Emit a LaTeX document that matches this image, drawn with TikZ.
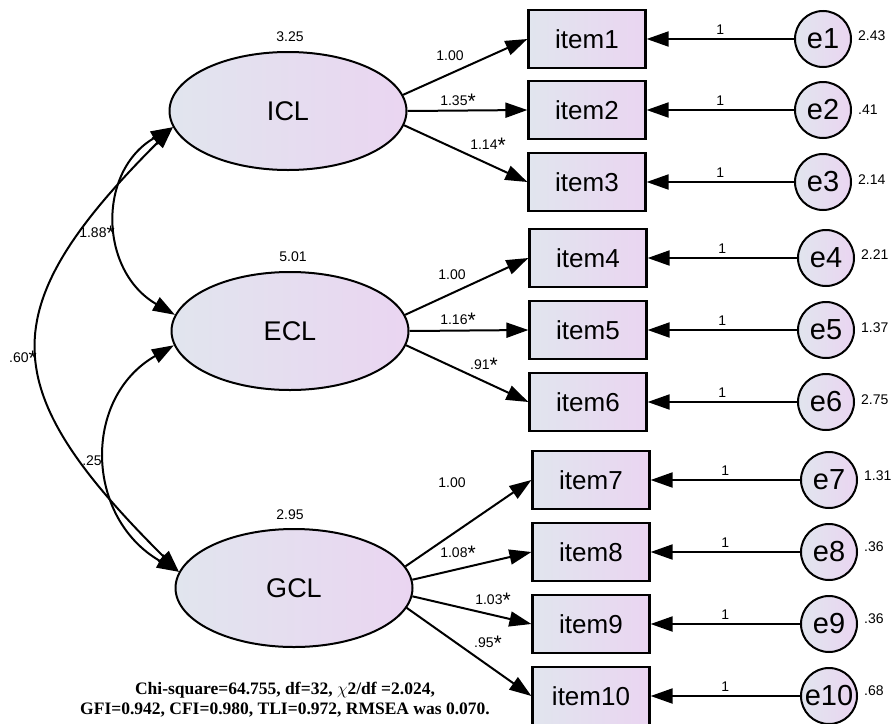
\documentclass[tikz,border=0pt]{standalone}
\usepackage{fontspec}
\setmainfont{Liberation Sans}
\newfontfamily\timesfont{Liberation Serif}
\usetikzlibrary{arrows.meta,shapes.geometric}
\definecolor{gl}{HTML}{E1E5EE}
\definecolor{gr}{HTML}{EAD5F1}
\newcommand\myast{\raisebox{-3pt}{\fontsize{21}{21}\selectfont *}}
\begin{document}
\begin{tikzpicture}[x=1pt,y=1pt,
  latent/.style={ellipse, draw, line width=2pt, minimum width=237pt, minimum height=118pt, inner sep=0pt, left color=gl, right color=gr, font=\fontsize{27}{30}\selectfont},
  itembox/.style={rectangle, draw, line width=2.2pt, minimum width=117pt, minimum height=58pt, inner sep=0pt, left color=gl, right color=gr, font=\fontsize{26}{28}\selectfont},
  errc/.style={circle, draw, line width=2pt, minimum size=56pt, inner sep=0pt, left color=gl, right color=gr, font=\fontsize{29}{30}\selectfont},
  num/.style={font=\fontsize{14}{16}\selectfont, inner sep=1pt},
  conn/.style={line width=2pt, -{Triangle[length=22pt,width=15pt]}},
  cov/.style={line width=2pt, {Triangle[length=22pt,width=15pt]}-{Triangle[length=22pt,width=15pt]}},
]
\useasboundingbox (0,0) rectangle (894,-723);

% latent variables
\node[latent] (ICL) at (288,-111) {ICL};
\node[latent] (ECL) at (290,-331) {ECL};
\node[latent] (GCL) at (294,-588) {GCL};
\node[num] (vICL) at (290,-37) {3.25};
\node[num] (vECL) at (293,-257) {5.01};
\node[num] (vGCL) at (290,-515) {2.95};

% items
\node[itembox] (item1) at (587,-39) {item1};
\node[itembox] (item2) at (587,-110) {item2};
\node[itembox] (item3) at (587,-182) {item3};
\node[itembox] (item4) at (588,-258) {item4};
\node[itembox] (item5) at (588,-330) {item5};
\node[itembox] (item6) at (588,-402) {item6};
\node[itembox] (item7) at (591,-480) {item7};
\node[itembox] (item8) at (591,-552) {item8};
\node[itembox] (item9) at (591,-624) {item9};
\node[itembox] (item10) at (591,-696) {item10};

% errors
\node[errc] (e1) at (823,-39) {e1};
\node[errc] (e2) at (823,-110) {e2};
\node[errc] (e3) at (823,-182) {e3};
\node[errc] (e4) at (826,-258) {e4};
\node[errc] (e5) at (826,-330) {e5};
\node[errc] (e6) at (826,-402) {e6};
\node[errc] (e7) at (829,-480) {e7};
\node[errc] (e8) at (829,-552) {e8};
\node[errc] (e9) at (829,-624) {e9};
\node[errc] (e10) at (829,-696) {e10};

% error variances
\node[num, anchor=west] (ve1) at ([xshift=5pt,yshift=3pt]e1.east) {2.43};
\node[num, anchor=west] (ve2) at ([xshift=5pt,yshift=0pt]e2.east) {.41};
\node[num, anchor=west] (ve3) at ([xshift=5pt,yshift=2pt]e3.east) {2.14};
\node[num, anchor=west] (ve4) at ([xshift=5pt,yshift=3pt]e4.east) {2.21};
\node[num, anchor=west] (ve5) at ([xshift=5pt,yshift=2pt]e5.east) {1.37};
\node[num, anchor=west] (ve6) at ([xshift=5pt,yshift=2pt]e6.east) {2.75};
\node[num, anchor=west] (ve7) at ([xshift=5pt,yshift=4pt]e7.east) {1.31};
\node[num, anchor=west] (ve8) at ([xshift=5pt,yshift=5pt]e8.east) {.36};
\node[num, anchor=west] (ve9) at ([xshift=5pt,yshift=5pt]e9.east) {.36};
\node[num, anchor=west] (ve10) at ([xshift=5pt,yshift=5pt]e10.east) {.68};

% error paths
\foreach \i in {1,...,10}{
  \draw[conn] (e\i) -- node[num, above=3pt] (one\i) {1} (item\i);
}

% loadings
\draw[conn] (ICL.8) -- (item1.west);
\draw[conn] (ICL.0) -- (item2.west);
\draw[conn] (ICL.-7) -- (item3.west);
\draw[conn] (ECL.8) -- (item4.west);
\draw[conn] (ECL.0) -- (item5.west);
\draw[conn] (ECL.-7) -- (item6.west);
\draw[conn] (GCL.11) -- (item7.west);
\draw[conn] (GCL.4) -- (item8.west);
\draw[conn] (GCL.-4) -- (item9.west);
\draw[conn] (GCL.-10) -- (item10.west);

\node[num] (l1) at (450,-56) {1.00};
\node[num] (l2) at (458,-101) {1.35\myast};
\node[num] (l3) at (488,-145) {1.14\myast};
\node[num] (l4) at (452,-275) {1.00};
\node[num] (l5) at (458,-320) {1.16\myast};
\node[num] (l6) at (484,-365) {.91\myast};
\node[num] (l7) at (452,-483) {1.00};
\node[num] (l8) at (458,-553) {1.08\myast};
\node[num] (l9) at (493,-600) {1.03\myast};
\node[num] (l10) at (488,-643) {.95\myast};

% covariances
\draw[cov] (ICL.188) .. controls (97,-171) and (99,-271) .. (ECL.172);
\draw[cov] (ICL.188) .. controls (-10,-310) and (-5,-389) .. (GCL.172);
\draw[cov] (ECL.187) .. controls (82,-398) and (85,-518) .. (GCL.172);
\node[num] (c1) at (97,-233) {1.88\myast};
\node[num] (c2) at (23,-358) {.60\myast};
\node[num] (c3) at (92,-461) {.25};

% fit indices
\node[font=\timesfont\bfseries\fontsize{17.5}{20}\selectfont, align=center, inner sep=0pt] (fit) at (285,-700)
  {Chi-square=64.755, df=32, $\chi$2/df =2.024,\\GFI=0.942, CFI=0.980, TLI=0.972, RMSEA was 0.070.};
\end{tikzpicture}
\end{document}
